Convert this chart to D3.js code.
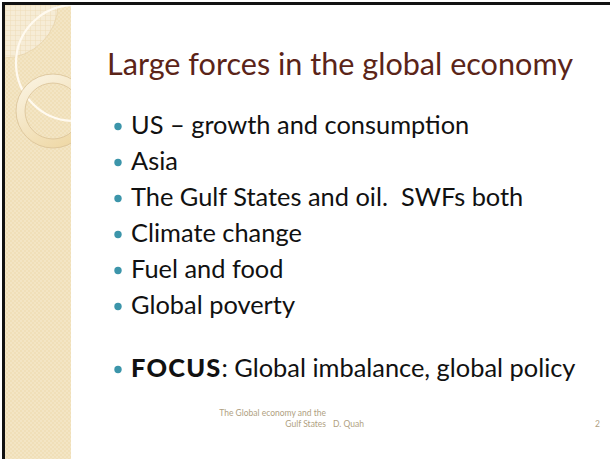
<!DOCTYPE html>
<html>
<head>
<meta charset="utf-8">
<script src="https://cdn.jsdelivr.net/npm/d3@7"></script>
<style>
  body { margin: 0; background: #fff; }
  svg { display: block; }
</style>
</head>
<body>
<svg id="slide"></svg>
<script>
// slide content
const TITLE = 'Large forces in the global economy';
const bullets = [
  'US \u2013 growth and consumption',
  'Asia',
  'The Gulf States and oil.  SWFs both',
  'Climate change',
  'Fuel and food',
  'Global poverty',
  '',
  'FOCUS: Global imbalance, global policy'
];
const boldLead = ['', '', '', '', '', '', '', 'FOCUS'];
const footerLines = ['The Global economy and the', 'Gulf States'];
const footerAuthor = 'D. Quah';
const pageNum = '2';

const W = 610, H = 459;
const FONT = 'Lato, "Open Sans", sans-serif';

const svg = d3.select('#slide').attr('width', W).attr('height', H);
const defs = svg.append('defs');

// tiny check pattern for the side stripe
const pat = defs.append('pattern')
  .attr('id', 'weave').attr('width', 4).attr('height', 4)
  .attr('patternUnits', 'userSpaceOnUse');
pat.append('rect').attr('width', 4).attr('height', 4).attr('fill', '#f0dfb8');
pat.append('rect').attr('width', 2).attr('height', 2).attr('fill', '#f3e5c4');
pat.append('rect').attr('x', 2).attr('y', 2).attr('width', 2).attr('height', 2).attr('fill', '#f3e5c4');

const grid = defs.append('pattern')
  .attr('id', 'grid').attr('width', 5).attr('height', 5)
  .attr('patternUnits', 'userSpaceOnUse');
grid.append('rect').attr('width', 5).attr('height', 5).attr('fill', '#f6ecd6');
grid.append('path').attr('d', 'M0,0H5M0,0V5').attr('stroke', '#eedcb8').attr('stroke-width', 1);

const ringGrad = defs.append('linearGradient')
  .attr('id', 'ringGrad').attr('x1', 0).attr('y1', 0).attr('x2', 0.6).attr('y2', 1);
ringGrad.append('stop').attr('offset', '0%').attr('stop-color', '#fbf5e6');
ringGrad.append('stop').attr('offset', '100%').attr('stop-color', '#efd9a8');

defs.append('clipPath').attr('id', 'stripeClip')
  .append('rect').attr('x', 5).attr('y', 5).attr('width', 66).attr('height', H);

// side stripe
const side = svg.append('g').attr('clip-path', 'url(#stripeClip)');
side.append('rect').attr('x', 5).attr('y', 5).attr('width', 66).attr('height', H)
  .attr('fill', 'url(#weave)');
side.append('circle').attr('cx', 4).attr('cy', 4).attr('r', 54)
  .attr('fill', 'url(#grid)').attr('stroke', '#ead7b0').attr('stroke-width', 1);
side.append('circle').attr('cx', 74).attr('cy', 63).attr('r', 58)
  .attr('fill', 'none').attr('stroke', '#fffaf0').attr('stroke-width', 2.2);
side.append('path')
  .attr('d', d3.arc()({innerRadius: 28, outerRadius: 37, startAngle: 0, endAngle: 2 * Math.PI}))
  .attr('transform', 'translate(53,111)')
  .attr('fill', 'url(#ringGrad)').attr('stroke', '#d9c197').attr('stroke-width', 0.8);

// frame lines
svg.append('rect').attr('x', 2).attr('y', 2).attr('width', W - 2).attr('height', 3).attr('fill', '#111');
svg.append('rect').attr('x', 2).attr('y', 2).attr('width', 3).attr('height', H).attr('fill', '#111');

// title
svg.append('text')
  .attr('x', 107).attr('y', 75)
  .attr('font-family', FONT).attr('font-size', 30.6)
  .attr('fill', '#5b2418')
  .text(TITLE);

// bullet rows: slot index -> baseline (the empty line is a short paragraph gap)
const slot = i => (i > 6 ? i - 0.25 : i);
const y = d3.scaleLinear()
  .domain([0, 5])
  .range([134, 314]);

const rows = svg.append('g').selectAll('g')
  .data(bullets.map((t, i) => ({text: t, bold: boldLead[i], i})).filter(d => d.text !== ''))
  .join('g')
  .attr('transform', d => `translate(0,${y(slot(d.i))})`);

rows.append('circle')
  .attr('cx', 118).attr('cy', -7.5).attr('r', 3.7)
  .attr('fill', '#3c95aa');

const txt = rows.append('text')
  .attr('x', 131).attr('y', 0)
  .attr('font-family', FONT).attr('font-size', 25.4)
  .attr('fill', '#111')
  .style('white-space', 'pre');
txt.each(function(d) {
  const t = d3.select(this);
  if (d.bold) {
    t.append('tspan').attr('font-weight', 900).attr('letter-spacing', 1.2).text(d.bold);
    t.append('tspan').text(d.text.slice(d.bold.length));
  } else {
    t.text(d.text);
  }
});

// footer
const foot = svg.append('g')
  .attr('font-family', FONT).attr('font-size', 8.5).attr('fill', '#b09f82');
foot.selectAll('text.fl')
  .data(footerLines)
  .join('text')
  .attr('class', 'fl')
  .attr('x', 326).attr('y', (d, i) => 416 + i * 10.5)
  .attr('text-anchor', 'end')
  .text(d => d);
foot.append('text').attr('x', 333).attr('y', 426.5).text(footerAuthor);
foot.append('text').attr('x', 600).attr('y', 426.5).attr('text-anchor', 'end').text(pageNum);
</script>
</body>
</html>
